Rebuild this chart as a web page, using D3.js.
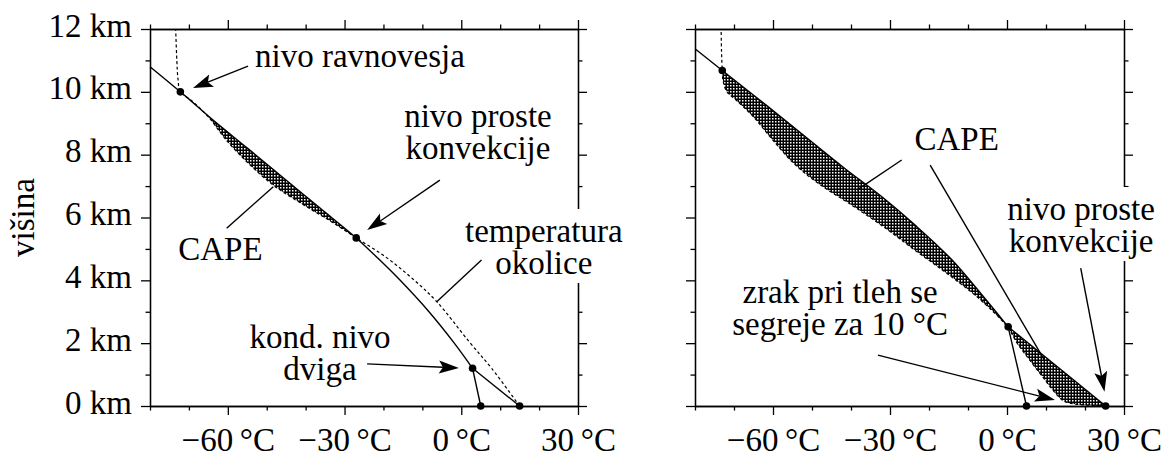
<!DOCTYPE html>
<meta charset="utf-8">
<script src="https://d3js.org/d3.v7.min.js"></script>
<body style="margin:0">
<script>
// axis ticks (deg C and km)
var tempTicks = [-60, -30, 0, 30];
var tempMinor = [-80, -70, -50, -40, -20, -10, 10, 20];
var heightTicks = [0, 2, 4, 6, 8, 10, 12];
var heightMinor = [1, 3, 5, 7, 9, 11];

// left panel: [temperature, height]
var leftDry = [[15, 0], [2.9, 1.2]];
var leftDew = [[5, 0], [2.9, 1.2]];
var leftMoist = [[2.9, 1.2], [-1.8, 2.0], [-8.3, 3.0], [-15.7, 4.0], [-21.4, 4.7], [-27, 5.35],
  [-36.3, 6.3], [-45.6, 7.25], [-54.9, 8.2], [-63.8, 9.1], [-72.2, 10], [-80, 10.8]];
var leftEnv = [[15, 0], [7.8, 1.2], [2.0, 2.05], [-6.3, 3.32], [-12.5, 4.05], [-19.5, 4.75], [-27, 5.35],
  [-33.8, 5.9], [-40.5, 6.4], [-48, 7.0], [-54.5, 7.7], [-60.3, 8.45], [-65, 9.2], [-69.3, 9.72],
  [-72.2, 10], [-72.8, 10.4], [-73.1, 11], [-73.4, 12]];
var leftDots = [[15, 0], [5, 0], [2.9, 1.2], [-27, 5.35], [-72.2, 10]];
var leftCape = [5.35, 10];   // LFC .. EL heights

// right panel
var rightDry = [[25.3, 0], [0.3, 2.52]];
var rightDew = [[5, 0], [0.3, 2.52]];
var rightMoist = [[0.3, 2.52], [-6.5, 3.55], [-14.5, 4.7], [-23.5, 5.75], [-32, 6.65], [-42, 7.6],
  [-52, 8.6], [-62, 9.6], [-73, 10.68], [-80, 11.37]];
var rightEnv = [[25.3, 0], [15, 0.13], [12.5, 0.4], [9.3, 0.9], [5.6, 1.5], [2.6, 2.0], [0.2, 2.5],
  [-7, 3.4], [-15.2, 4.2], [-23.5, 4.95], [-32.3, 5.76], [-40.5, 6.45], [-48, 7.05], [-54.5, 7.7],
  [-60.3, 8.5], [-65, 9.2], [-69.3, 9.72], [-71.8, 10.0], [-72.8, 10.35], [-73, 10.68], [-73.2, 11.3], [-73.3, 12]];
var rightDots = [[25.3, 0], [5, 0], [0.3, 2.52], [-73, 10.68]];
var rightCape = [0, 10.68];

// annotations, in deg C / km
var leftLabels = [
  {lines: ["nivo ravnovesja"], t: -53, z: 10.8, anchor: "start"},
  {lines: ["nivo proste", "konvekcije"], t: 4.3, z: 8.88, anchor: "middle"},
  {lines: ["temperatura", "okolice"], t: 21.2, z: 5.22, anchor: "middle", box: true},
  {lines: ["kond. nivo", "dviga"], t: -36.3, z: 1.84, anchor: "middle"},
  {lines: ["CAPE"], t: -61.9, z: 4.65, anchor: "middle"}
];
var leftArrows = [
  {from: [-54.8, 10.82], to: [-68.95, 10.12], head: true},
  {from: [-5.5, 7.19], to: [-24.2, 5.6], head: true},
  {from: [5.2, 4.65], to: [-6.3, 3.32], head: false},
  {from: [-24.2, 1.34], to: [-0.6, 1.21], head: true},
  {from: [-60.3, 5.66], to: [-48.3, 6.98], head: false}
];
var rightLabels = [
  {lines: ["CAPE"], t: -12.9, z: 8.15, anchor: "middle"},
  {lines: ["nivo proste", "konvekcije"], t: 19.0, z: 5.92, anchor: "middle", box: true},
  {lines: ["zrak pri tleh se", "segreje za 10 °C"], t: -42.8, z: 3.28, anchor: "middle"}
];
var rightArrows = [
  {from: [-27, 7.83], to: [-38.5, 6.87], head: false},
  {from: [-19.7, 7.67], to: [9.75, 1.43], head: false},
  {from: [18.9, 4.39], to: [25.0, 0.455], head: true},
  {from: [-33.1, 1.62], to: [12.3, 0.19], head: true}
];

var width = 1161, height = 454;
var yTop = 29, yBot = 406;

var svg = d3.select("body").append("svg")
  .attr("width", width)
  .attr("height", height);

// serif text everywhere, set as attributes
function font(sel) {
  return sel.attr("font-family", "Liberation Serif")
    .attr("font-size", 33)
    .attr("fill", "#000");
}

var pat = svg.append("defs").append("pattern")
  .attr("id", "dots")
  .attr("width", 3).attr("height", 3)
  .attr("patternUnits", "userSpaceOnUse");
pat.append("rect").attr("width", 3).attr("height", 3).attr("fill", "#000");
pat.append("rect").attr("x", 1).attr("y", 1).attr("width", 1.5).attr("height", 1.5).attr("fill", "#fff");

function tempFmt(d) {
  return (d < 0 ? "\u2212" + Math.abs(d) : d) + "\u2009°C";
}

function drawPanel(x0, x1, yLabels, dry, dew, moist, env, dots, cape, labels, arrows) {
  var x = d3.scaleLinear().domain([-80, 30]).range([x0, x1]);
  var y = d3.scaleLinear().domain([0, 12]).range([yBot, yTop]);
  var g = svg.append("g");

  // axes on all four sides, minor + major ticks
  function axis(maker, scale, vals, size, fmt, tr) {
    var a = g.append("g")
      .attr("transform", tr)
      .call(maker(scale).tickValues(vals).tickSize(size).tickSizeOuter(0).tickFormat(fmt || ""));
    a.attr("font-size", null).attr("font-family", null);
    a.selectAll("path, line").attr("stroke", "#000").attr("stroke-width", 1.3);
    font(a.selectAll("text"));
    return a;
  }
  axis(d3.axisBottom, x, tempMinor, 4.5, null, "translate(0," + yBot + ")");
  var bx = axis(d3.axisBottom, x, tempTicks, 9, tempFmt, "translate(0," + yBot + ")");
  bx.selectAll("text").attr("y", 45).attr("dy", null);
  axis(d3.axisTop, x, tempMinor, 4.5, null, "translate(0," + yTop + ")");
  axis(d3.axisTop, x, tempTicks, 9, null, "translate(0," + yTop + ")");
  axis(d3.axisLeft, y, heightMinor, 4.5, null, "translate(" + x0 + ",0)");
  var ly = axis(d3.axisLeft, y, heightTicks, 9, yLabels ? function(d) { return d + " km"; } : null, "translate(" + x0 + ",0)");
  ly.selectAll("text").attr("x", -18).attr("dy", null).attr("y", 7);
  axis(d3.axisRight, y, heightMinor, 4.5, null, "translate(" + x1 + ",0)");
  axis(d3.axisRight, y, heightTicks, 9, null, "translate(" + x1 + ",0)");

  var line = d3.line()
    .x(function(d) { return x(d[0]); })
    .y(function(d) { return y(d[1]); })
    .curve(d3.curveCatmullRom.alpha(0.5));
  var straight = d3.line()
    .x(function(d) { return x(d[0]); })
    .y(function(d) { return y(d[1]); });

  // CAPE area: parcel up to EL, environment back down
  var pUp = moist.filter(function(d) { return d[1] >= cape[0] - 1e-6 && d[1] <= cape[1] + 1e-6; });
  var eDown = env.filter(function(d) { return d[1] >= cape[0] - 1e-6 && d[1] <= cape[1] + 1e-6; }).reverse();
  var capePath;
  if (cape[0] === 0) {
    capePath = "M" + x(dry[0][0]) + "," + y(dry[0][1]) + line(pUp).replace(/^M/, "L");
  } else {
    capePath = line(pUp);
  }
  capePath += line(eDown).replace(/^M/, "L") + "Z";
  g.append("path").attr("d", capePath).attr("fill", "url(#dots)").attr("stroke", "none");

  g.append("path").attr("d", line(env))
    .attr("fill", "none").attr("stroke", "#000").attr("stroke-width", 1.2)
    .attr("stroke-dasharray", "3,2.5");
  g.append("path").attr("d", straight(dry)).attr("fill", "none").attr("stroke", "#000").attr("stroke-width", 1.4);
  g.append("path").attr("d", straight(dew)).attr("fill", "none").attr("stroke", "#000").attr("stroke-width", 1.4);
  g.append("path").attr("d", line(moist)).attr("fill", "none").attr("stroke", "#000").attr("stroke-width", 1.4);

  g.selectAll(null).data(dots).enter().append("circle")
    .attr("cx", function(d) { return x(d[0]); })
    .attr("cy", function(d) { return y(d[1]); })
    .attr("r", 3.8)
    .attr("fill", "#000");

  // labels
  labels.forEach(function(l) {
    var lg = g.append("g");
    l.lines.forEach(function(s, i) {
      var t = font(lg.append("text"))
        .attr("x", x(l.t))
        .attr("y", y(l.z) + i * 32)
        .attr("text-anchor", l.anchor)
        .text(s);
      if (l.box) {
        var b = t.node().getBBox();
        lg.insert("rect", "text")
          .attr("x", b.x - 3).attr("y", b.y - 4)
          .attr("width", b.width + 6).attr("height", b.height + 6)
          .attr("fill", "#fff");
      }
    });
  });

  // arrows and leader lines
  arrows.forEach(function(a) {
    var xa = x(a.from[0]), ya = y(a.from[1]), xb = x(a.to[0]), yb = y(a.to[1]);
    var ang = Math.atan2(yb - ya, xb - xa);
    var L = 20, w = 6.5;
    var ex = a.head ? xb - Math.cos(ang) * L * 0.8 : xb;
    var ey = a.head ? yb - Math.sin(ang) * L * 0.8 : yb;
    g.append("line")
      .attr("x1", xa).attr("y1", ya).attr("x2", ex).attr("y2", ey)
      .attr("stroke", "#000").attr("stroke-width", 1.4);
    if (a.head) {
      var c = Math.cos(ang), s = Math.sin(ang);
      var pts = [[0, 0], [-L, w], [-L * 0.8, 0], [-L, -w]].map(function(p) {
        return [xb + p[0] * c - p[1] * s, yb + p[0] * s + p[1] * c];
      });
      g.append("path").attr("d", "M" + pts.join("L") + "Z").attr("fill", "#000");
    }
  });
}

drawPanel(150, 578, true, leftDry, leftDew, leftMoist, leftEnv, leftDots, leftCape, leftLabels, leftArrows);
drawPanel(695, 1124, false, rightDry, rightDew, rightMoist, rightEnv, rightDots, rightCape, rightLabels, rightArrows);

font(svg.append("text"))
  .attr("transform", "translate(34," + ((yTop + yBot) / 2) + ") rotate(-90)")
  .attr("text-anchor", "middle")
  .text("višina");
</script>
</body>
